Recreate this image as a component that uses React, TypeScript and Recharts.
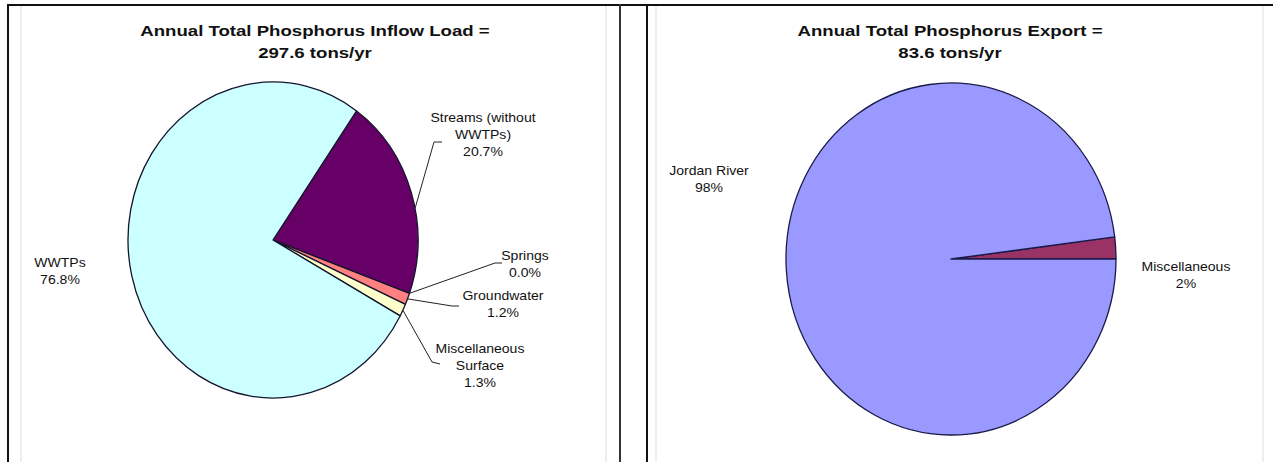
import React from 'react';
import { PieChart, Pie, Cell } from 'recharts';

// ---------- data ----------
const inflowCategories = ['Streams (without WWTPs)', 'Springs', 'Groundwater', 'Miscellaneous Surface', 'WWTPs'];
const inflowValues = [20.7, 0.0, 1.2, 1.3, 76.8];
const inflowLabelLines = [
  ['Streams (without', 'WWTPs)', '20.7%'],
  ['Springs', '0.0%'],
  ['Groundwater', '1.2%'],
  ['Miscellaneous', 'Surface', '1.3%'],
  ['WWTPs', '76.8%'],
];
const inflowColors = ['#660066', '#0066CC', '#FF8080', '#FFFFCC', '#CCFFFF'];
const inflowTitle = ['Annual Total Phosphorus Inflow Load =', '297.6 tons/yr'];

const exportCategories = ['Miscellaneous', 'Jordan River'];
const exportValues = [2, 98];
const exportLabelLines = [
  ['Miscellaneous', '2%'],
  ['Jordan River', '98%'],
];
const exportColors = ['#993366', '#9999FF'];
const exportTitle = ['Annual Total Phosphorus Export =', '83.6 tons/yr'];

// ---------- layout (label placement relative to pie centre) ----------
type LabelLayout = { text: [number, number]; leader?: [number, number][]; attach?: number };
const inflowLabelLayout: LabelLayout[] = [
  { text: [210, -122], leader: [[161, -98], [169, -98]], attach: -6 },
  { text: [252, 16], leader: [[222, 23], [229, 23]] },
  { text: [230, 56], leader: [[179, 66], [186, 66]] },
  { text: [207, 109], leader: [[159, 122], [167, 124]] },
  { text: [-213, 23] },
];
const exportLabelLayout: LabelLayout[] = [
  { text: [235, 8] },
  { text: [-242, -88] },
];

const FONT = '"Liberation Sans", Arial, Helvetica, sans-serif';
const RAD = Math.PI / 180;
const LINE_H = 17;

const inflowData = inflowCategories.map((name, i) => ({ name, value: inflowValues[i] }));
const exportData = exportCategories.map((name, i) => ({ name, value: exportValues[i] }));

const makeEllipseShape = (k: number) => (props: any) => {
  const { cx, cy, outerRadius: r, startAngle, endAngle, fill, stroke } = props;
  const ry = r * k;
  const sweep = endAngle - startAngle;
  if (Math.abs(sweep) >= 359.99) {
    return <ellipse cx={cx} cy={cy} rx={r} ry={ry} fill={fill} stroke={stroke} strokeWidth={1.3} />;
  }
  const x0 = cx + r * Math.cos(startAngle * RAD);
  const y0 = cy - ry * Math.sin(startAngle * RAD);
  const x1 = cx + r * Math.cos(endAngle * RAD);
  const y1 = cy - ry * Math.sin(endAngle * RAD);
  const large = Math.abs(sweep) > 180 ? 1 : 0;
  const sweepFlag = sweep > 0 ? 0 : 1;
  const d = `M${cx},${cy} L${x0},${y0} A${r},${ry} 0 ${large} ${sweepFlag} ${x1},${y1} Z`;
  return <path d={d} fill={fill} stroke={stroke} strokeWidth={1.3} strokeLinejoin="round" />;
};

const makeLabel = (k: number, lines: string[][], layout: LabelLayout[]) => (props: any) => {
  const { cx, cy, midAngle, outerRadius: r, index } = props;
  const lay = layout[index];
  if (!lay) return null;
  const a = (midAngle + (lay.attach || 0)) * RAD;
  const ex = cx + r * Math.cos(a);
  const ey = cy - r * k * Math.sin(a);
  const tx = cx + lay.text[0];
  const ty = cy + lay.text[1];
  const pts = lay.leader
    ? [[ex, ey], ...lay.leader.map(([dx, dy]) => [cx + dx, cy + dy])]
    : null;
  return (
    <g>
      {pts && (
        <polyline
          points={pts.map((p) => p.join(',')).join(' ')}
          fill="none"
          stroke="#222"
          strokeWidth={1}
        />
      )}
      {lines[index].map((t, i) => (
        <text
          key={i}
          transform={`translate(${tx},${ty + i * LINE_H}) scale(1.08,1)`}
          x={0}
          y={0}
          textAnchor="middle"
          dominantBaseline="central"
          fontFamily={FONT}
          fontSize={13}
          fill="#111"
        >
          {t}
        </text>
      ))}
    </g>
  );
};

const Title = ({ lines, center }: { lines: string[]; center: number }) => (
  <div
    style={{
      position: 'absolute',
      left: center - 250,
      top: 20,
      width: 500,
      textAlign: 'center',
      fontFamily: FONT,
      fontWeight: 'bold',
      fontSize: 15,
      lineHeight: '22px',
      color: '#111',
      transform: 'scaleX(1.24)',
      transformOrigin: '50% 0',
    }}
  >
    {lines.map((l, i) => (
      <div key={i}>{l}</div>
    ))}
  </div>
);

const line = (style: React.CSSProperties) => (
  <div style={{ position: 'absolute', ...style }} />
);

export default function App() {
  const kL = 158 / 145;
  const kR = 176 / 165;
  return (
    <div style={{ position: 'absolute', left: 0, top: 0, width: 1273, height: 462, background: '#fff', overflow: 'hidden' }}>
      {/* frame lines */}
      {line({ left: 7, top: 4, width: 1266, height: 2, background: '#111' })}
      {line({ left: 7, top: 4, width: 2, height: 458, background: '#111' })}
      {line({ left: 619, top: 4, width: 2, height: 458, background: '#333' })}
      {line({ left: 646, top: 4, width: 2, height: 458, background: '#111' })}
      {line({ left: 20, top: 6, width: 2, height: 456, background: '#eee' })}
      {line({ left: 605, top: 6, width: 2, height: 456, background: '#eee' })}
      {line({ left: 655, top: 6, width: 2, height: 456, background: '#eee' })}
      {line({ left: 1262, top: 6, width: 2, height: 456, background: '#eee' })}

      <Title lines={inflowTitle} center={315} />
      <Title lines={exportTitle} center={950} />

      <div style={{ position: 'absolute', left: 0, top: 0 }}>
        <PieChart width={619} height={462} margin={{ top: 0, right: 0, bottom: 0, left: 0 }}>
          <Pie
            data={inflowData}
            dataKey="value"
            nameKey="name"
            cx={273}
            cy={240}
            outerRadius={145}
            startAngle={54.8}
            endAngle={-305.2}
            stroke="#14142e"
            isAnimationActive={false}
            shape={makeEllipseShape(kL)}
            label={makeLabel(kL, inflowLabelLines, inflowLabelLayout)}
            labelLine={false}
          >
            {inflowData.map((d, i) => (
              <Cell key={d.name} fill={inflowColors[i]} />
            ))}
          </Pie>
        </PieChart>
      </div>

      <div style={{ position: 'absolute', left: 630, top: 0 }}>
        <PieChart width={643} height={462} margin={{ top: 0, right: 0, bottom: 0, left: 0 }}>
          <Pie
            data={exportData}
            dataKey="value"
            nameKey="name"
            cx={321}
            cy={259}
            outerRadius={165}
            startAngle={0}
            endAngle={360}
            stroke="#1a1a4a"
            isAnimationActive={false}
            shape={makeEllipseShape(kR)}
            label={makeLabel(kR, exportLabelLines, exportLabelLayout)}
            labelLine={false}
          >
            {exportData.map((d, i) => (
              <Cell key={d.name} fill={exportColors[i]} />
            ))}
          </Pie>
        </PieChart>
      </div>
    </div>
  );
}
